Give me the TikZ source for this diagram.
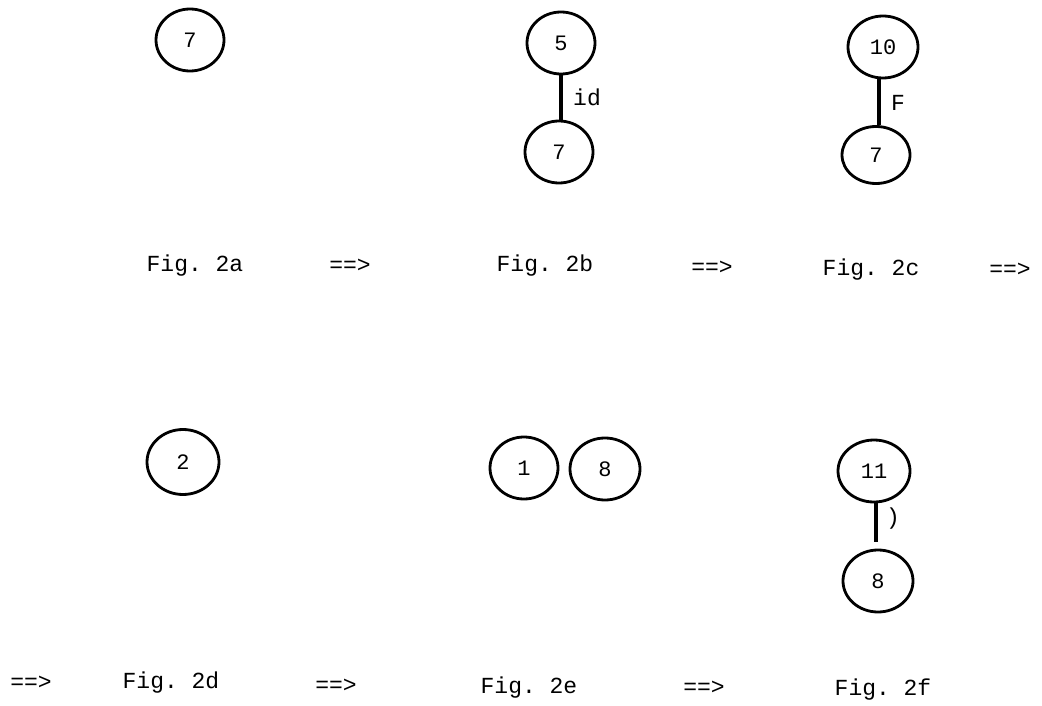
\documentclass[tikz,border=0pt]{standalone}
\usepackage{fontspec}
\setmonofont{Liberation Mono}
\usetikzlibrary{shapes.geometric}
\begin{document}
\begin{tikzpicture}[x=1pt,y=-1pt,
  nd/.style={ellipse,draw,line width=2.8pt,minimum width=68pt,minimum height=62pt,inner sep=0pt,font=\ttfamily\fontsize{22}{22}\selectfont},
  txt/.style={font=\ttfamily\fontsize{23}{23}\selectfont,inner sep=0pt},
  edge/.style={line width=3.4pt}]
\useasboundingbox (0,0) rectangle (1042,706);
% Fig 2a
\node[nd] (a7) at (190,40) {7};
% Fig 2b
\node[nd] (b5) at (561,43) {5};
\node[nd] (b7) at (559,152) {7};
\draw[edge] (b5.south) -- (b5.south |- b7.north);
\node[txt] (bl) at (587,97) {id};
% Fig 2c
\node[nd,minimum width=70pt] (c10) at (883,47) {10};
\node[nd,minimum height=57pt] (c7) at (876,155) {7};
\draw[edge] (c10.south -| 879,0) -- (c7.north -| 879,0);
\node[txt] (cl) at (898,103) {F};
% Fig 2d
\node[nd,minimum width=72pt,minimum height=65pt] (d2) at (183,462) {2};
% Fig 2e
\node[nd] (e1) at (524,468) {1};
\node[nd,minimum width=70pt] (e8) at (605,469) {8};
% Fig 2f
\node[nd,minimum width=72pt] (f11) at (874,471) {11};
\node[nd,minimum width=70pt] (f8) at (878,581) {8};
\draw[edge,shorten >=7pt] (f11.south -| 876,0) -- (f8.north -| 876,0);
\node[txt] (fl) at (893,519) {)};
% captions row 1
\node[txt] (ca) at (195,266) {Fig. 2a};
\node[txt] (r1) at (350,266) {==>};
\node[txt] (cb) at (545,266) {Fig. 2b};
\node[txt] (r2) at (712,268) {==>};
\node[txt] (cc) at (871,270) {Fig. 2c};
\node[txt] (r3) at (1010,270) {==>};
% captions row 2
\node[txt] (r4) at (31,683) {==>};
\node[txt] (cd) at (171,683) {Fig. 2d};
\node[txt] (r5) at (336,686) {==>};
\node[txt] (ce) at (529,688) {Fig. 2e};
\node[txt] (r6) at (704,688) {==>};
\node[txt] (cf) at (883,690) {Fig. 2f};
\end{tikzpicture}
\end{document}
